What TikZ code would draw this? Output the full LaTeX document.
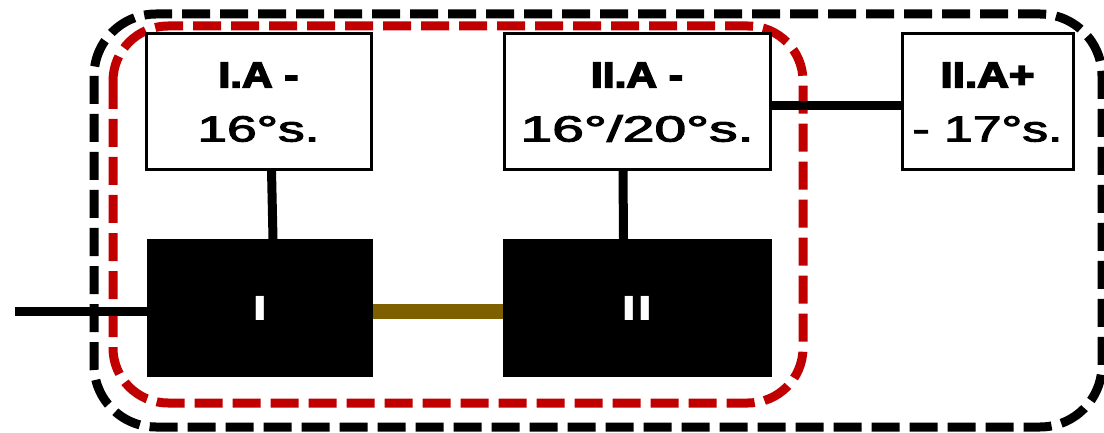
\documentclass[tikz,border=0pt]{standalone}
\usepackage{fontspec}
\usepackage{graphicx}
\newfontfamily\lab{Liberation Sans}
\newfontfamily\labh{Liberation Sans}[BoldFeatures={FakeBold=4}]
\newfontfamily\labm{Liberation Sans}[UprightFeatures={FakeBold=2.5}]
\definecolor{dred}{RGB}{192,0,0}
\definecolor{dgold}{RGB}{127,96,0}
\newcommand\fitw[2]{\raisebox{0pt}[\height][0pt]{\resizebox{#1}{\height}{\labh\bfseries #2}}}
\newcommand\fitr[2]{\raisebox{0pt}[\height][0pt]{\resizebox{#1}{\height}{\labm\mdseries #2}}}
\begin{document}
\begin{tikzpicture}[x=1pt,y=-1pt,
  lbl/.style={draw=black,line width=3pt,fill=white,inner sep=0pt,outer sep=0pt,align=center,
    font=\lab\bfseries\fontsize{36.3}{54}\selectfont},
  blk/.style={fill=black,draw=none,inner sep=0pt,outer sep=0pt,text=white,
    font=\lab\bfseries\fontsize{35}{40}\selectfont},
  conn/.style={line width=9pt,black},
  grp/.style={line width=9pt,dash pattern=on 28pt off 10pt},
]
\useasboundingbox (0,0) rectangle (1104,433);
% group outlines
\draw[grp,black,rounded corners=62pt] (94,14) rectangle (1102,427);
\draw[grp,dred,rounded corners=55pt] (113,26) rectangle (803,403);
% label boxes
\node[lbl,minimum width=225pt,minimum height=136pt] (IA) at (258.5,102)
  {\fitw{80pt}{I.A -}\\\fitr{122pt}{16°s.}};
\node[lbl,minimum width=266pt,minimum height=136pt] (IIA) at (637,102)
  {\fitw{92pt}{II.A -}\\\fitr{233pt}{16°/20°s.}};
\node[lbl,minimum width=171pt,minimum height=136pt] (IIAp) at (987.5,102)
  {\fitw{94pt}{II.A+}\\\fitr{150pt}{- 17°s.}};
% black blocks
\node[blk,minimum width=226pt,minimum height=138pt] (I) at (260,308) {\scalebox{1.6}[1]{I}};
\node[blk,minimum width=269pt,minimum height=138pt] (II) at (637.5,308) {\scalebox{1.6}[1]{II}};
% connectors
\coordinate (lin) at (15,311);
\draw[conn] (lin) -- (I.west |- lin);
\draw[line width=15pt,dgold] ([yshift=-3pt]I.east) -- ([yshift=-3pt]II.west);
\draw[conn] ([xshift=13pt]IA.south) -- ([xshift=13pt]I.north);
\draw[conn] ([xshift=-14pt]IIA.south) -- ([xshift=-14pt]II.north);
\draw[conn] ([yshift=-4pt]IIA.east) -- ([yshift=-4pt]IIAp.west);
\end{tikzpicture}
\end{document}
